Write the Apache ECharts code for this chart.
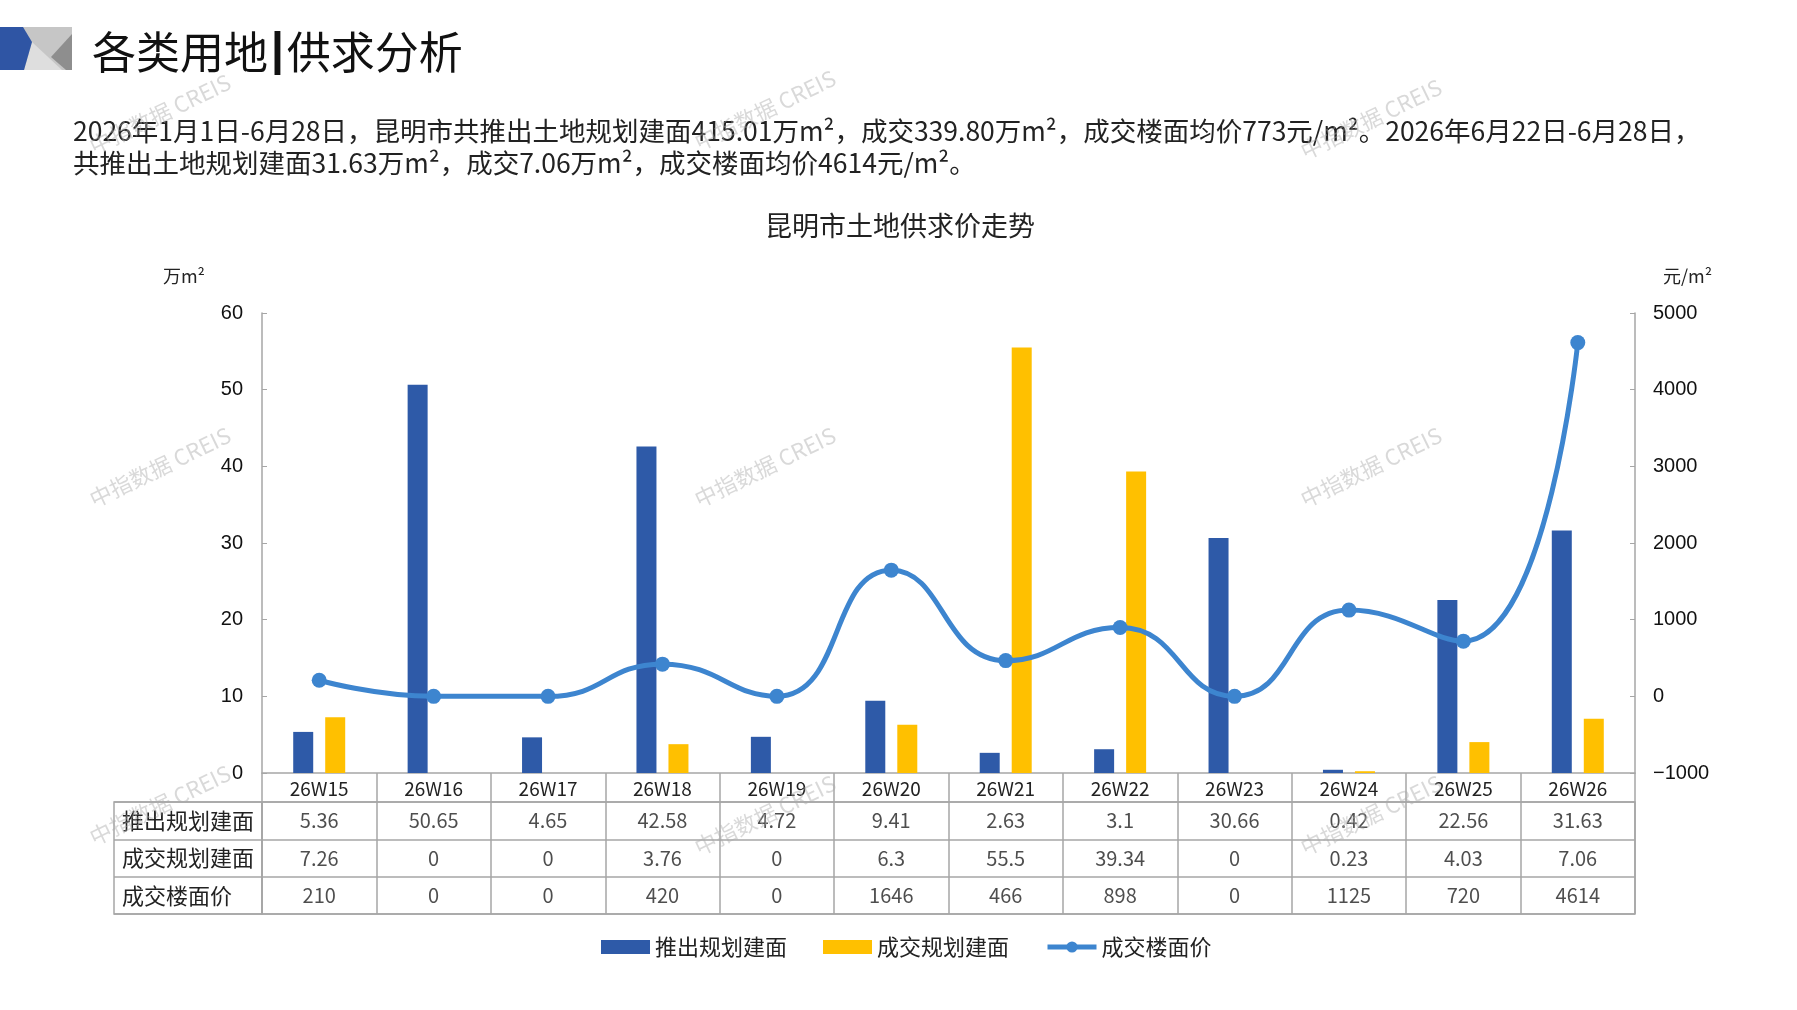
<!DOCTYPE html>
<html>
<head>
<meta charset="utf-8">
<title>昆明市土地供求价走势</title>
<style>
    html,body{margin:0;padding:0;width:100%;height:100%;overflow:hidden;background:#fff;}
    #main{width:1797px;height:1010px;}
</style>
<script src="https://cdn.jsdelivr.net/npm/echarts@6/dist/echarts.min.js"></script>
</head>
<body>
<div id="main"></div>
<script type="text/javascript">
    // 周次
    var weeks = ['26W15', '26W16', '26W17', '26W18', '26W19', '26W20', '26W21', '26W22', '26W23', '26W24', '26W25', '26W26'];
    // 推出规划建面（万m²）
    var supplyArea = [5.36, 50.65, 4.65, 42.58, 4.72, 9.41, 2.63, 3.1, 30.66, 0.42, 22.56, 31.63];
    // 成交规划建面（万m²）
    var dealArea = [7.26, 0, 0, 3.76, 0, 6.3, 55.5, 39.34, 0, 0.23, 4.03, 7.06];
    // 成交楼面价（元/m²）
    var dealPrice = [210, 0, 0, 420, 0, 1646, 466, 898, 0, 1125, 720, 4614];
    var rowNames = ['推出规划建面', '成交规划建面', '成交楼面价'];

    var summary = [
        '2026年1月1日-6月28日，昆明市共推出土地规划建面415.01万m²，成交339.80万m²，成交楼面均价773元/m²。2026年6月22日-6月28日，',
        '共推出土地规划建面31.63万m²，成交7.06万m²，成交楼面均价4614元/m²。'
    ];
    var chartTitle = '昆明市土地供求价走势';
    var watermark = '中指数据 CREIS';
    var watermarkSpots = [[160, 114], [765, 110], [1371, 119], [160, 467], [765, 467], [1371, 467], [160, 805], [765, 815], [1371, 815]];

    // 表格单元格
    var tableCells = [];
    [supplyArea, dealArea, dealPrice].forEach(function (row, r) {
        row.forEach(function (v, c) { tableCells.push([c, r, v]); });
    });

    var cjk = '"Noto Sans CJK SC", sans-serif';
    var latin = '"Liberation Sans", Arial, sans-serif';
    var lineGray = '#a6a6a6';
    var priceBlue = '#3d85cf';

    var graphics = [
        {type: 'rect', shape: {x: 0, y: 27, width: 72, height: 43}, style: {fill: '#c6c6c6'}},
        {type: 'polygon', shape: {points: [[32, 42], [24, 70], [62, 70]]}, style: {fill: '#dedede'}},
        {type: 'polygon', shape: {points: [[72, 34], [51, 57], [66, 70], [72, 70]]}, style: {fill: '#8e8e8e'}},
        {type: 'polygon', shape: {points: [[0, 27], [23, 27], [32, 42], [24, 70], [0, 70]]}, style: {fill: '#2f55a4'}},
        {
            type: 'text', x: 92, y: 52,
            style: {
                text: '{a|各类用地}{b||}{a|供求分析}', verticalAlign: 'middle',
                rich: {
                    a: {font: '44px ' + cjk, fill: '#111'},
                    b: {font: 'bold 46px ' + latin, fill: '#111', padding: [0, 3, 0, 3]}
                }
            }
        },
        {type: 'text', x: 73, y: 131, style: {text: summary[0], font: '26.5px ' + cjk, fill: '#222', verticalAlign: 'middle'}},
        {type: 'text', x: 73, y: 163, style: {text: summary[1], font: '26.5px ' + cjk, fill: '#222', verticalAlign: 'middle'}},
        {type: 'text', x: 900, y: 226, style: {text: chartTitle, font: '27px ' + cjk, fill: '#222', align: 'center', verticalAlign: 'middle'}}
    ];
    watermarkSpots.forEach(function (p) {
        graphics.push({
            type: 'text', x: p[0], y: p[1], rotation: 0.45, z: 100, silent: true,
            style: {text: watermark, font: '22px ' + cjk, fill: 'rgba(170,170,170,0.45)', align: 'center', verticalAlign: 'middle'}
        });
    });

    var myChart = echarts.init(document.getElementById('main'));

    var option = {
        backgroundColor: '#fff',
        animation: false,
        textStyle: {fontFamily: cjk},
        graphic: graphics,
        legend: {
            left: 596,
            top: 931,
            itemWidth: 49,
            itemHeight: 14,
            itemGap: 36,
            textStyle: {fontSize: 22, color: '#222'},
            data: [
                {name: '推出规划建面', icon: 'rect'},
                {name: '成交规划建面', icon: 'rect'},
                {name: '成交楼面价', lineStyle: {width: 5, color: priceBlue}, itemStyle: {color: priceBlue}}
            ]
        },
        grid: [
            {left: 262, top: 313, width: 1373, height: 460, outerBoundsMode: 'none'},
            {left: 262, top: 802, width: 1373, height: 112, show: true, borderColor: lineGray, borderWidth: 1.5, outerBoundsMode: 'none'},
            {left: 114, top: 802, width: 148, height: 112, show: true, borderColor: lineGray, borderWidth: 1.5, outerBoundsMode: 'none'}
        ],
        xAxis: [
            {
                gridIndex: 0, type: 'category', data: weeks,
                axisLine: {lineStyle: {color: lineGray, width: 1.5}},
                axisTick: {show: true, interval: 0, length: 29, lineStyle: {color: lineGray, width: 1.5}},
                axisLabel: {interval: 0, margin: 6, fontSize: 19, color: '#222'}
            },
            {
                gridIndex: 1, type: 'category', data: weeks,
                axisLine: {show: false}, axisTick: {show: false}, axisLabel: {show: false},
                splitLine: {show: true, interval: 0, lineStyle: {color: lineGray, width: 1.5}}
            },
            {gridIndex: 2, type: 'value', show: false}
        ],
        yAxis: [
            {
                gridIndex: 0, type: 'value', min: 0, max: 60, interval: 10,
                name: '万m²', nameLocation: 'end', nameGap: 28,
                nameTextStyle: {fontSize: 18, color: '#222', align: 'right', padding: [0, 57, 0, 0]},
                axisLine: {show: true, lineStyle: {color: lineGray, width: 1.5}},
                axisTick: {show: true, inside: true, length: 5, lineStyle: {color: lineGray}},
                axisLabel: {margin: 19, fontSize: 20, color: '#111', fontFamily: latin},
                splitLine: {show: false}
            },
            {
                gridIndex: 0, type: 'value', position: 'right', min: -1000, max: 5000, interval: 1000,
                name: '元/m²', nameLocation: 'end', nameGap: 28,
                nameTextStyle: {fontSize: 18, color: '#222', align: 'left', padding: [0, 0, 0, 28]},
                axisLine: {show: true, lineStyle: {color: lineGray, width: 1.5}},
                axisTick: {show: true, inside: true, length: 5, lineStyle: {color: lineGray}},
                axisLabel: {
                    margin: 18, fontSize: 20, color: '#111', fontFamily: latin,
                    formatter: function (v) { return v < 0 ? '\u2212' + Math.abs(v) : String(v); }
                },
                splitLine: {show: false}
            },
            {
                gridIndex: 1, type: 'category', data: rowNames, inverse: true,
                axisLine: {show: false}, axisTick: {show: false}, axisLabel: {show: false},
                splitLine: {show: true, interval: 0, lineStyle: {color: lineGray, width: 1.5}}
            },
            {
                gridIndex: 2, type: 'category', data: rowNames, inverse: true,
                axisLine: {show: false}, axisTick: {show: false},
                axisLabel: {inside: true, margin: 8, fontSize: 22, color: '#222'},
                splitLine: {show: true, interval: 0, lineStyle: {color: lineGray, width: 1.5}}
            }
        ],
        series: [
            {
                name: '推出规划建面', type: 'bar', xAxisIndex: 0, yAxisIndex: 0,
                data: supplyArea, barWidth: 20, barGap: '60%',
                itemStyle: {color: '#2e5aa8'}
            },
            {
                name: '成交规划建面', type: 'bar', xAxisIndex: 0, yAxisIndex: 0,
                data: dealArea, barWidth: 20, barGap: '60%',
                itemStyle: {color: '#ffc000'}
            },
            {
                name: '成交楼面价', type: 'line', xAxisIndex: 0, yAxisIndex: 1,
                data: dealPrice, smooth: 0.5, symbol: 'circle', symbolSize: 15,
                lineStyle: {color: priceBlue, width: 5},
                itemStyle: {color: priceBlue}
            },
            {
                name: 'table', type: 'scatter', xAxisIndex: 1, yAxisIndex: 2,
                data: tableCells, symbolSize: 1, silent: true,
                itemStyle: {color: 'rgba(0,0,0,0)'},
                label: {
                    show: true, position: 'inside', fontSize: 20, color: '#222',
                    formatter: function (p) { return String(p.value[2]); }
                }
            }
        ]
    };

    myChart.setOption(option);
</script>
</body>
</html>
